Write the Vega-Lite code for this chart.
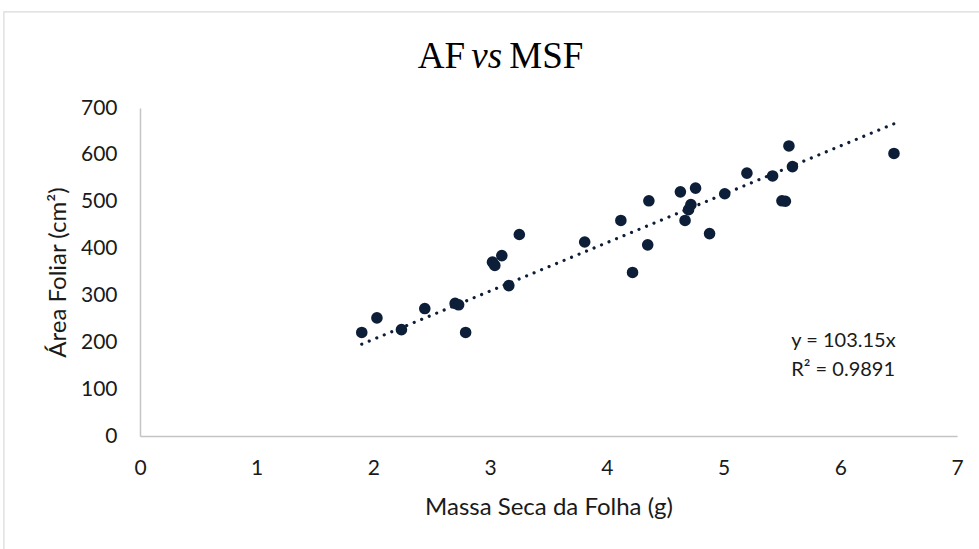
{
  "$schema": "https://vega.github.io/schema/vega-lite/v6.json",
  "autosize": {"type": "none"},
  "width": 817,
  "height": 328,
  "padding": {"left": 140, "top": 108, "right": 22, "bottom": 113},
  "background": "#ffffff",
  "config": {
    "view": {"stroke": null},
    "font": "Lato",
    "axis": {
      "grid": false,
      "ticks": false,
      "tickSize": 0,
      "labelFlush": false,
      "domainColor": "#c4c4c4",
      "domainWidth": 1.5,
      "labelFont": "Lato",
      "labelFontSize": 21,
      "labelColor": "#1a1a1a",
      "titleFont": "Lato",
      "titleFontSize": 24,
      "titleFontWeight": "normal",
      "titleColor": "#1a1a1a"
    }
  },
  "datasets": {
    "amostras": [
      {"msf": 1.90, "af": 221},
      {"msf": 2.03, "af": 252},
      {"msf": 2.24, "af": 227},
      {"msf": 2.44, "af": 272},
      {"msf": 2.70, "af": 283},
      {"msf": 2.73, "af": 280},
      {"msf": 2.79, "af": 221},
      {"msf": 3.02, "af": 371},
      {"msf": 3.04, "af": 364},
      {"msf": 3.10, "af": 385},
      {"msf": 3.16, "af": 321},
      {"msf": 3.25, "af": 430},
      {"msf": 3.81, "af": 414},
      {"msf": 4.12, "af": 460},
      {"msf": 4.22, "af": 349},
      {"msf": 4.35, "af": 408},
      {"msf": 4.36, "af": 502},
      {"msf": 4.63, "af": 521},
      {"msf": 4.67, "af": 460},
      {"msf": 4.70, "af": 483},
      {"msf": 4.72, "af": 494},
      {"msf": 4.76, "af": 529},
      {"msf": 4.88, "af": 432},
      {"msf": 5.01, "af": 517},
      {"msf": 5.20, "af": 561},
      {"msf": 5.42, "af": 555},
      {"msf": 5.50, "af": 502},
      {"msf": 5.53, "af": 501},
      {"msf": 5.56, "af": 619},
      {"msf": 5.59, "af": 575},
      {"msf": 6.46, "af": 603}
    ],
    "tendencia": [
      {"msf": 1.90, "af": 195.985},
      {"msf": 6.46, "af": 666.349}
    ]
  },
  "layer": [
    {
      "data": {"values": [{}]},
      "mark": {"type": "rect", "fill": null, "stroke": "#d9d9d9", "strokeWidth": 1.2},
      "encoding": {
        "x": {"datum": -1.166, "type": "quantitative", "scale": {"domain": [0, 7]}},
        "x2": {"datum": 7.25},
        "y": {"datum": 905, "type": "quantitative", "scale": {"domain": [0, 700]}},
        "y2": {"datum": -250}
      }
    },
    {
      "data": {"name": "tendencia"},
      "mark": {"type": "line", "color": "#0d1f38", "strokeWidth": 3.2, "strokeCap": "round", "strokeDash": [0.01, 8.1]},
      "encoding": {
        "x": {"field": "msf", "type": "quantitative"},
        "y": {"field": "af", "type": "quantitative"}
      }
    },
    {
      "data": {"name": "amostras"},
      "mark": {"type": "circle", "size": 135, "color": "#0d1f38", "opacity": 1},
      "encoding": {
        "x": {
          "field": "msf", "type": "quantitative",
          "scale": {"domain": [0, 7], "nice": false, "zero": true},
          "axis": {"values": [0, 1, 2, 3, 4, 5, 6, 7], "format": "d", "labelPadding": 21, "title": "Massa Seca da Folha (g)", "titlePadding": 17}
        },
        "y": {
          "field": "af", "type": "quantitative",
          "scale": {"domain": [0, 700], "nice": false},
          "axis": {"values": [0, 100, 200, 300, 400, 500, 600, 700], "format": "d", "labelPadding": 23, "title": "Área Foliar (cm²)", "titlePadding": 10}
        }
      }
    },
    {
      "data": {"values": [{}]},
      "mark": {"type": "text", "align": "left", "baseline": "alphabetic", "font": "Lato", "fontSize": 20, "color": "#1a1a1a", "lineBreak": "\n", "lineHeight": 29},
      "encoding": {
        "x": {"datum": 5.58, "type": "quantitative"},
        "y": {"datum": 189, "type": "quantitative"},
        "text": {"value": "y = 103.15x\nR² = 0.9891"}
      }
    },
    {
      "data": {"values": [{}]},
      "mark": {"type": "text", "align": "right", "baseline": "alphabetic", "font": "Liberation Serif", "fontSize": 37, "color": "#000000"},
      "encoding": {
        "x": {"datum": 2.786, "type": "quantitative"},
        "y": {"datum": 786, "type": "quantitative"},
        "text": {"value": "AF"}
      }
    },
    {
      "data": {"values": [{}]},
      "mark": {"type": "text", "align": "center", "baseline": "alphabetic", "font": "Liberation Serif", "fontSize": 37, "fontStyle": "italic", "color": "#000000"},
      "encoding": {
        "x": {"datum": 2.971, "type": "quantitative"},
        "y": {"datum": 786, "type": "quantitative"},
        "text": {"value": "vs"}
      }
    },
    {
      "data": {"values": [{}]},
      "mark": {"type": "text", "align": "left", "baseline": "alphabetic", "font": "Liberation Serif", "fontSize": 37, "color": "#000000"},
      "encoding": {
        "x": {"datum": 3.164, "type": "quantitative"},
        "y": {"datum": 786, "type": "quantitative"},
        "text": {"value": "MSF"}
      }
    }
  ]
}
